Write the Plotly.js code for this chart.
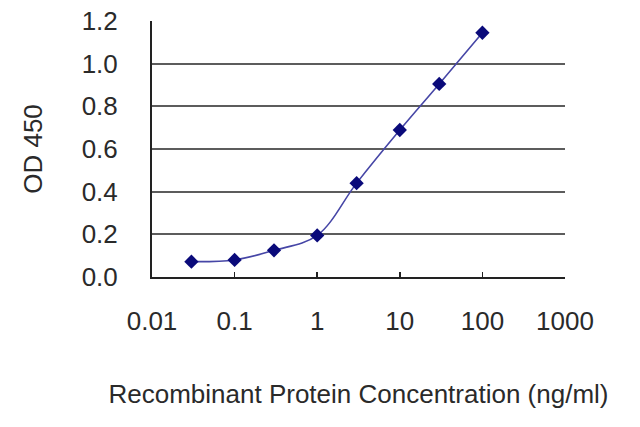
<!DOCTYPE html>
<html>
<head>
<meta charset="utf-8">
<script src="https://cdn.plot.ly/plotly-3.0.1.min.js"></script>
<style>html,body{margin:0;padding:0;background:#fff;}#chart{width:640px;height:427px;}</style>
</head>
<body>
<div id="chart"></div>
<script>
const concentrations = [0.03, 0.1, 0.3, 1, 3, 10, 30, 100];
const od450 = [0.072, 0.080, 0.125, 0.195, 0.440, 0.689, 0.905, 1.145];
const xTickVals = [0.01, 0.1, 1, 10, 100, 1000];
const xTickText = ["0.01", "0.1", "1", "10", "100", "1000"];
const yTickVals = [0, 0.2, 0.4, 0.6, 0.8, 1.0, 1.2];
const yTickText = ["0.0", "0.2", "0.4", "0.6", "0.8", "1.0", "1.2"];

const font = {family: "Liberation Sans, Arial, sans-serif", size: 26, color: "#2a2a2a"};

const trace = {
  x: concentrations,
  y: od450,
  type: "scatter",
  mode: "lines+markers",
  line: {shape: "spline", smoothing: 1, color: "#4646a6", width: 1.6},
  marker: {symbol: "diamond", size: 11, color: "#0a0a7a"},
  hoverinfo: "skip",
  cliponaxis: false
};

const layout = {
  width: 640, height: 427,
  margin: {l: 152, r: 75, t: 21, b: 150},
  paper_bgcolor: "#fff", plot_bgcolor: "#fff",
  showlegend: false,
  font: font,
  xaxis: {
    type: "log",
    range: [-2, 3],
    tickvals: xTickVals, ticktext: xTickText,
    ticks: "inside", ticklen: 5, tickwidth: 1.5, tickcolor: "#222",
    showgrid: false, zeroline: false,
    showline: true, linecolor: "#222", linewidth: 2,
    tickfont: font,
    ticklabelstandoff: 20,
    title: {text: "Recombinant Protein Concentration (ng/ml)", font: font, standoff: 50},
    automargin: false,
    fixedrange: true
  },
  yaxis: {
    range: [0, 1.2],
    tickvals: yTickVals, ticktext: yTickText,
    ticks: "",
    showgrid: true, gridcolor: "#5c5c5c", gridwidth: 2.2,
    zeroline: false,
    showline: true, linecolor: "#222", linewidth: 2,
    tickfont: font,
    ticklabelstandoff: 27,
    title: {text: "OD 450", font: font, standoff: 32},
    automargin: false,
    fixedrange: true
  }
};

Plotly.newPlot("chart", [trace], layout, {staticPlot: true, displayModeBar: false});
</script>
</body>
</html>
